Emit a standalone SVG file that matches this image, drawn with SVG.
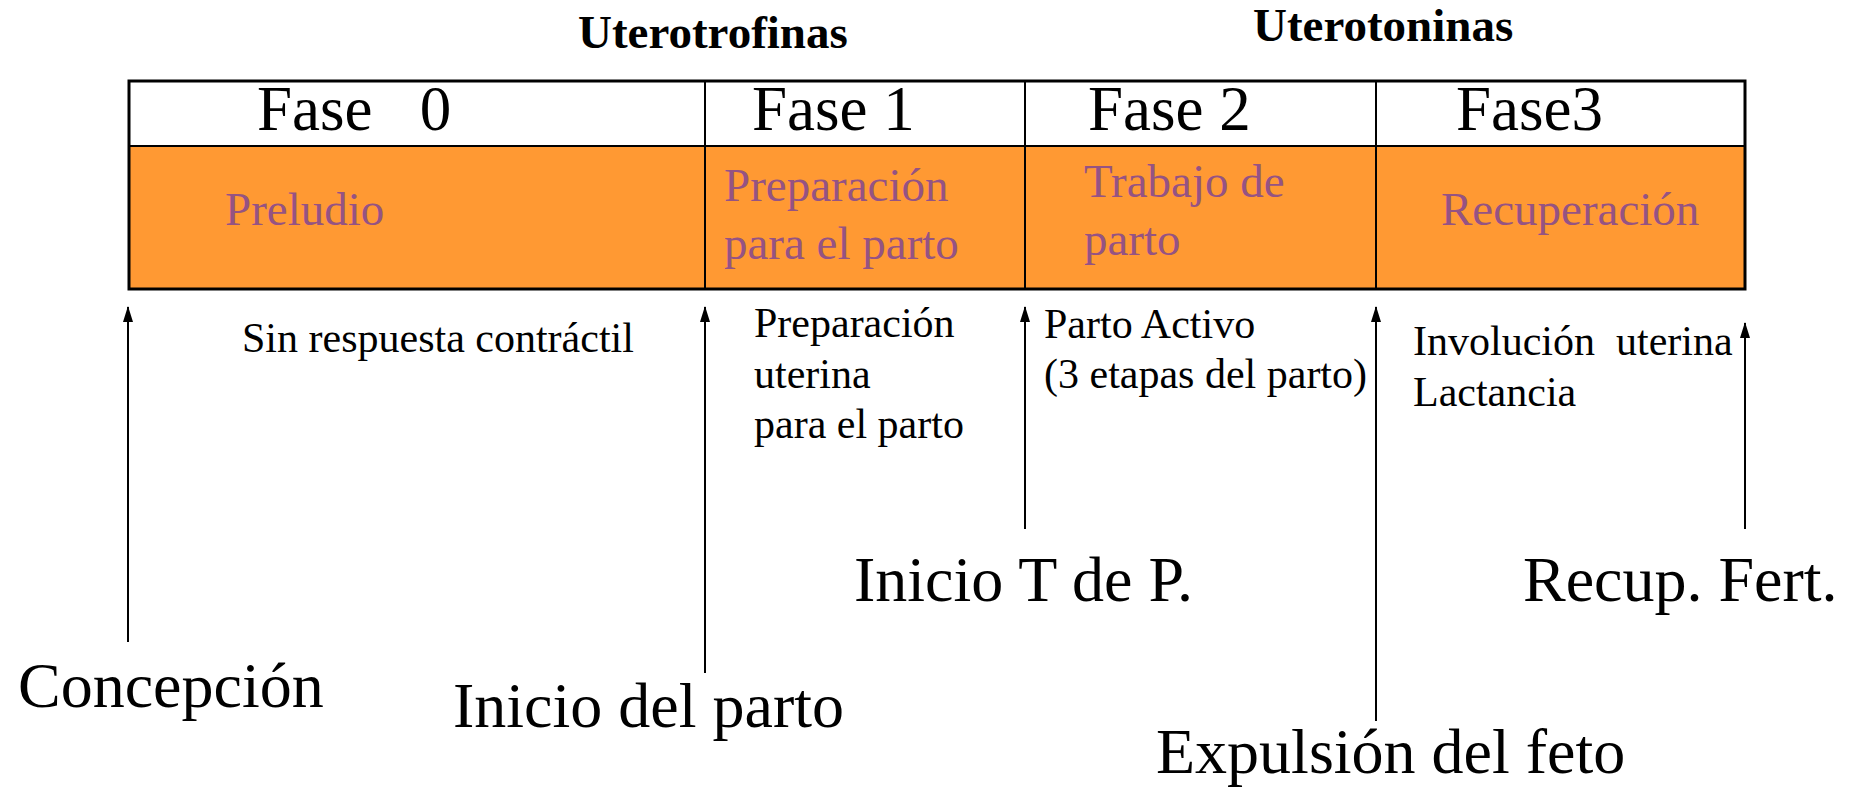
<svg xmlns="http://www.w3.org/2000/svg" width="1857" height="790" viewBox="0 0 1857 790" font-family="'Liberation Serif', 'Times New Roman', serif">
  <style>
    text { font-family: "Liberation Serif", "Times New Roman", serif; fill: #000; }
    .title { font-family: "Liberation Serif", "Times New Roman", serif; font-size: 47px; font-weight: bold; }
    .fase { font-family: "Liberation Serif", "Times New Roman", serif; font-size: 63px; }
    .phase { font-family: "Liberation Serif", "Times New Roman", serif; font-size: 47px; fill: #955383; }
    .note { font-family: "Liberation Serif", "Times New Roman", serif; font-size: 42px; }
    .event { font-family: "Liberation Serif", "Times New Roman", serif; font-size: 64px; }
    .cellTop { fill: #ffffff; stroke: #000; stroke-width: 2; }
    .cellBot { fill: #FF9933; stroke: #000; stroke-width: 2; }
    .arrow { stroke: #000; stroke-width: 2; fill: none; marker-end: url(#head); }
  </style>
  <defs>
    <marker id="head" markerUnits="userSpaceOnUse" markerWidth="16" markerHeight="10" refX="15" refY="5" orient="auto">
      <path d="M0,0 L16,5 L0,10 z" fill="#000"/>
    </marker>
  </defs>
  <rect x="0" y="0" width="1857" height="790" fill="#ffffff"/>

  <g id="title-uterotrofinas"><text class="title" x="578" y="48">Uterotrofinas</text></g>
  <g id="title-uterotoninas"><text class="title" x="1253" y="41">Uterotoninas</text></g>

  <g id="fase0">
    <rect class="cellTop" x="129" y="81" width="576" height="65"/>
    <rect class="cellBot" x="129" y="146" width="576" height="143"/>
    <text class="fase" x="257" y="130" xml:space="preserve">Fase   0</text>
    <text class="phase" x="225" y="225">Preludio</text>
  </g>
  <g id="fase1">
    <rect class="cellTop" x="705" y="81" width="320" height="65"/>
    <rect class="cellBot" x="705" y="146" width="320" height="143"/>
    <text class="fase" x="752" y="130">Fase 1</text>
    <text class="phase" x="724" y="201">Preparación</text>
    <text class="phase" x="724" y="259">para el parto</text>
  </g>
  <g id="fase2">
    <rect class="cellTop" x="1025" y="81" width="351" height="65"/>
    <rect class="cellBot" x="1025" y="146" width="351" height="143"/>
    <text class="fase" x="1088" y="130">Fase 2</text>
    <text class="phase" x="1084" y="197">Trabajo de</text>
    <text class="phase" x="1084" y="255">parto</text>
  </g>
  <g id="fase3">
    <rect class="cellTop" x="1376" y="81" width="369" height="65"/>
    <rect class="cellBot" x="1376" y="146" width="369" height="143"/>
    <text class="fase" x="1456" y="130">Fase3</text>
    <text class="phase" x="1441" y="225">Recuperación</text>
  </g>
  <rect x="129" y="81" width="1616" height="208" fill="none" stroke="#000" stroke-width="3"/>

  <g id="notes">
    <text class="note" x="242" y="352">Sin respuesta contráctil</text>
    <text class="note" x="754" y="337">Preparación</text>
    <text class="note" x="754" y="388">uterina</text>
    <text class="note" x="754" y="438">para el parto</text>
    <text class="note" x="1044" y="338">Parto Activo</text>
    <text class="note" x="1044" y="388">(3 etapas del parto)</text>
    <text class="note" x="1413" y="355" xml:space="preserve">Involución  uterina</text>
    <text class="note" x="1413" y="406">Lactancia</text>
  </g>

  <g id="event-concepcion"><text class="event" x="18" y="707">Concepción</text></g>
  <g id="event-inicio-parto"><text class="event" x="453" y="727">Inicio del parto</text></g>
  <g id="event-inicio-tp"><text class="event" x="854" y="601">Inicio T de P.</text></g>
  <g id="event-expulsion"><text class="event" x="1156" y="773">Expulsión del feto</text></g>
  <g id="event-recup"><text class="event" x="1523" y="601">Recup. Fert.</text></g>

  <g id="connectors">
    <line class="arrow" x1="128" y1="642" x2="128" y2="307"/>
    <line class="arrow" x1="705" y1="673" x2="705" y2="307"/>
    <line class="arrow" x1="1025" y1="529" x2="1025" y2="307"/>
    <line class="arrow" x1="1376" y1="721" x2="1376" y2="307"/>
    <line class="arrow" x1="1745" y1="529" x2="1745" y2="323"/>
  </g>
</svg>
